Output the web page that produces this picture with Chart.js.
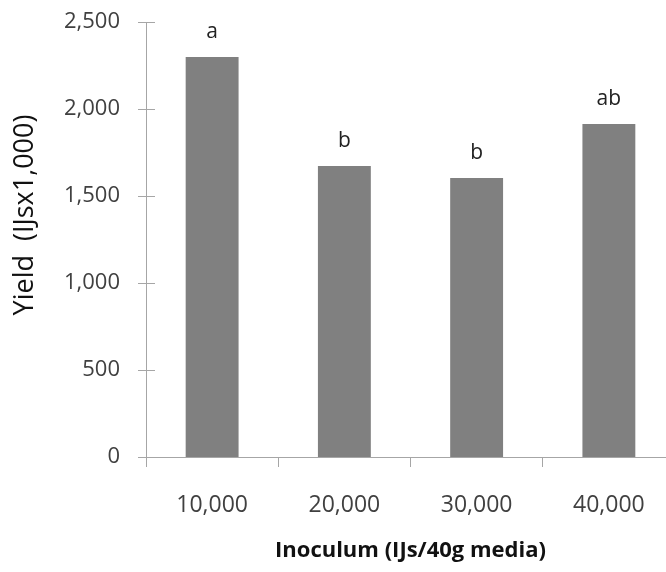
<!DOCTYPE html>
<html>
<head>
<meta charset="utf-8">
<script src="https://cdn.jsdelivr.net/npm/chart.js@4"></script>
<style>
  html, body { margin: 0; padding: 0; background: #fff; overflow: hidden; }
  #wrap { width: 680px; height: 572px; }
</style>
</head>
<body>
<div id="wrap"><canvas id="yieldChart" width="680" height="572"></canvas></div>
<script>
// values
const inoculum = ['10,000', '20,000', '30,000', '40,000'];
const yieldValues = [2299, 1672, 1603, 1914];
const letters = ['a', 'b', 'b', 'ab'];
const yTicks = [0, 500, 1000, 1500, 2000, 2500];

const axisColor = '#a6a6a6';
const font = '"Open Sans", "Noto Sans", sans-serif';

// crossing ticks on y axis, letters above bars, y title
const extras = {
  id: 'extras',
  afterDraw(chart) {
    const ctx = chart.ctx;
    const y = chart.scales.y;
    const x0 = y.right;
    ctx.save();
    ctx.strokeStyle = axisColor;
    ctx.lineWidth = 1;
    yTicks.forEach((v) => {
      const py = Math.round(y.getPixelForValue(v)) + 0.5;
      ctx.beginPath();
      ctx.moveTo(x0 - 8, py);
      ctx.lineTo(x0 + 9, py);
      ctx.stroke();
    });
    ctx.fillStyle = '#222';
    ctx.font = '21px ' + font;
    ctx.textAlign = 'center';
    ctx.textBaseline = 'middle';
    chart.getDatasetMeta(0).data.forEach((bar, i) => {
      ctx.fillText(letters[i], bar.x, bar.y - 25);
    });
    // y title
    ctx.translate(25, 215);
    ctx.rotate(-Math.PI / 2);
    ctx.fillStyle = '#111';
    ctx.font = '27px ' + font;
    ctx.fillText('Yield  (IJsx1,000)', 0, 0);
    ctx.restore();
  },
};

new Chart(document.getElementById('yieldChart'), {
  type: 'bar',
  data: {
    labels: inoculum,
    datasets: [{
      data: yieldValues,
      backgroundColor: '#808080',
      borderWidth: 0,
      barPercentage: 0.4,
      categoryPercentage: 1,
    }],
  },
  options: {
    responsive: false,
    animation: false,
    layout: { padding: { top: 22, right: 5, left: 0, bottom: 8 } },
    plugins: {
      legend: { display: false },
      tooltip: { enabled: false },
    },
    scales: {
      x: {
        grid: {
          display: true,
          drawOnChartArea: false,
          color: axisColor,
          tickLength: 10,
          offset: true,
        },
        border: { color: axisColor },
        ticks: { color: '#404040', font: { family: font, size: 23 }, padding: 25 },
        title: {
          display: true,
          text: 'Inoculum (IJs/40g media)',
          color: '#111',
          font: { family: font, size: 22, weight: 'bold' },
          padding: { top: 12, bottom: 0 },
        },
        afterFit(scale) { scale.height = 572 - 457 - 8; },
      },
      y: {
        min: 0,
        max: 2500,
        afterBuildTicks(scale) { scale.ticks = yTicks.map((v) => ({ value: v })); },
        grid: { display: false },
        border: { color: axisColor },
        ticks: {
          color: '#404040',
          font: { family: font, size: 22 },
          padding: 18,
          callback: (v) => v.toLocaleString('en-US'),
        },
        afterFit(scale) {
          scale.width = 146;
          scale.paddingTop = 0;
          scale.paddingBottom = 0;
        },
      },
    },
  },
  plugins: [extras],
});
</script>
</body>
</html>
